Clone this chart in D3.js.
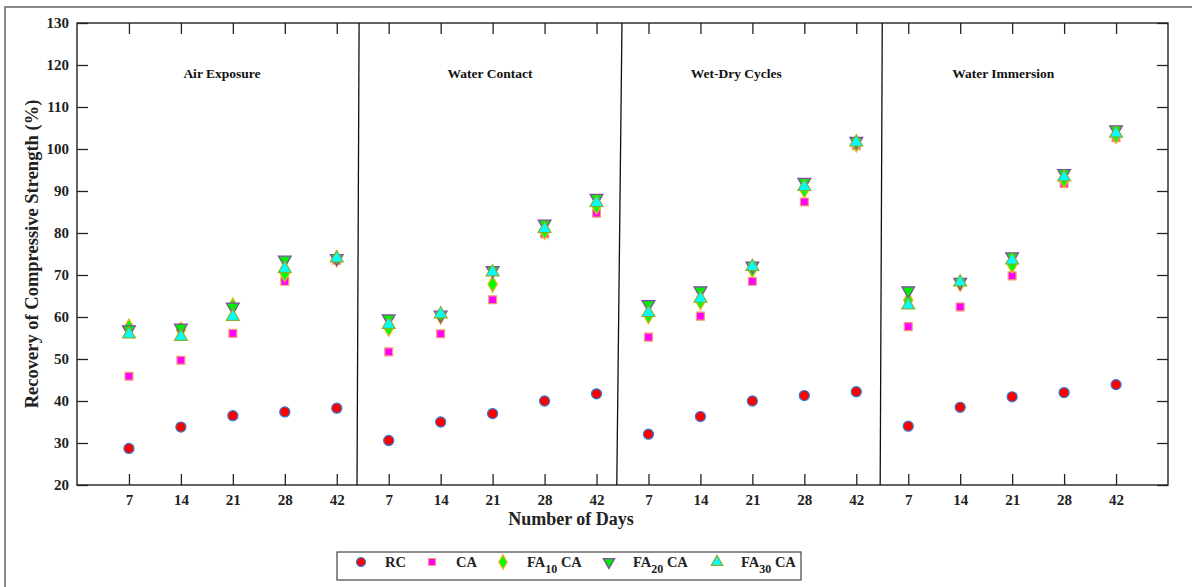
<!DOCTYPE html>
<html>
<head>
<meta charset="utf-8">
<script src="https://cdn.jsdelivr.net/npm/d3@7"></script>
<style>
  body { margin: 0; background: #fff; }
  svg { display: block; font-family: 'Liberation Serif', 'Times New Roman', serif; }
</style>
</head>
<body>
<div id="chart"></div>
<script>
const days = ['7', '14', '21', '28', '42'];
const panels = ['Air Exposure', 'Water Contact', 'Wet-Dry Cycles', 'Water Immersion'];

// values per panel, 5 days each
const rc = [
  [28.7, 33.8, 36.5, 37.4, 38.3],
  [30.6, 35.0, 37.0, 40.0, 41.7],
  [32.1, 36.3, 40.0, 41.3, 42.2],
  [34.0, 38.5, 41.0, 42.0, 43.9],
];
const ca = [
  [45.9, 49.7, 56.1, 68.5, 73.5],
  [51.7, 56.0, 64.1, 79.8, 84.7],
  [55.2, 60.2, 68.5, 87.4, 100.8],
  [57.7, 62.4, 69.8, 91.8, 102.7],
];
const fa10 = [
  [57.6, 56.9, 62.6, 70.3, 73.9],
  [57.3, 60.2, 67.8, 80.4, 86.4],
  [60.3, 63.7, 71.3, 90.3, 101.2],
  [64.0, 68.0, 72.4, 92.7, 103.2],
];
const fa20 = [
  [57.0, 57.4, 62.4, 73.6, 74.0],
  [59.6, 60.5, 71.1, 82.2, 88.3],
  [63.0, 66.3, 72.2, 92.1, 101.9],
  [66.3, 68.3, 74.4, 94.2, 104.6],
];
const fa30 = [
  [55.9, 55.3, 60.1, 71.5, 74.0],
  [58.2, 60.7, 70.7, 81.0, 87.2],
  [61.0, 64.4, 72.0, 91.0, 101.6],
  [62.8, 68.3, 73.5, 93.3, 103.7],
];
// separator lines between panels (x in category units, top / bottom)
const dividers = [[5.43, 5.39], [10.49, 10.39], [15.50, 15.46]];
// panel title centres, category units
const titleX = [2.79, 7.95, 12.69, 17.83];
const yTicks = d3.range(20, 131, 10);

const W = 1192, H = 587;
const margin = { top: 23, right: 24, bottom: 102, left: 77 };
const plotW = W - margin.left - margin.right;
const plotH = H - margin.top - margin.bottom;

const svg = d3.select('#chart').append('svg').attr('width', W).attr('height', H);

// outer figure frame
svg.append('rect')
  .attr('x', 5).attr('y', 7).attr('width', 1200).attr('height', 600)
  .attr('fill', 'none').attr('stroke', '#8a8a8a').attr('stroke-width', 2);

const xScale = d3.scaleLinear().domain([0, 21]).range([0, plotW]);
const yScale = d3.scaleLinear().domain([20, 130]).range([plotH, 0]);

const g = svg.append('g').attr('transform', `translate(${margin.left},${margin.top})`);

const positions = d3.range(1, 21);
const labelFor = (i) => days[(i - 1) % 5];
const tickLen = 11;

const styleAxis = (sel) => {
  sel.select('.domain').remove();
  sel.selectAll('line').attr('stroke', '#222').attr('stroke-width', 1.3);
  sel.selectAll('text').attr('font-family', "'Liberation Serif', serif")
    .attr('font-weight', 'bold').attr('font-size', 15).attr('fill', '#222');
};

g.append('g').attr('transform', `translate(0,${plotH})`)
  .call(d3.axisBottom(xScale).tickValues(positions).tickFormat(labelFor)
    .tickSizeInner(-tickLen).tickSizeOuter(0).tickPadding(9))
  .call(styleAxis);
g.append('g')
  .call(d3.axisTop(xScale).tickValues(positions).tickFormat('')
    .tickSizeInner(-tickLen).tickSizeOuter(0))
  .call(styleAxis);
g.append('g')
  .call(d3.axisLeft(yScale).tickValues(yTicks)
    .tickSizeInner(-tickLen).tickSizeOuter(0).tickPadding(8))
  .call(styleAxis);
g.append('g').attr('transform', `translate(${plotW},0)`)
  .call(d3.axisRight(yScale).tickValues(yTicks).tickFormat('')
    .tickSizeInner(-tickLen).tickSizeOuter(0))
  .call(styleAxis);

g.append('rect').attr('width', plotW).attr('height', plotH)
  .attr('fill', 'none').attr('stroke', '#222').attr('stroke-width', 1.4);

g.selectAll('.divider').data(dividers).join('line')
  .attr('class', 'divider')
  .attr('x1', (d) => xScale(d[0])).attr('y1', 0)
  .attr('x2', (d) => xScale(d[1])).attr('y2', plotH)
  .attr('stroke', '#111').attr('stroke-width', 1.3);

g.selectAll('.ptitle').data(panels).join('text')
  .attr('class', 'ptitle')
  .attr('x', (d, i) => xScale(titleX[i]))
  .attr('y', 55)
  .attr('text-anchor', 'middle')
  .attr('font-size', 13.5).attr('font-weight', 'bold').attr('fill', '#111')
  .text((d) => d);

const series = [
  { name: 'RC', values: rc, sym: d3.symbolCircle, size: 80, fill: '#ff0000', stroke: '#2a7fd4' },
  { name: 'CA', values: ca, sym: d3.symbolSquare, size: 62, fill: '#ff00ff', stroke: '#f0a070' },
  { name: 'FA10', values: fa10, sym: d3.symbolDiamond, size: 75, fill: '#00ff00', stroke: '#f0b020' },
  { name: 'FA20', values: fa20, sym: d3.symbolTriangle, size: 72, fill: '#00ee00', stroke: '#8844aa', rot: 180 },
  { name: 'FA30', values: fa30, sym: d3.symbolTriangle, size: 72, fill: '#00ffff', stroke: '#88b030' },
];

series.forEach((s) => {
  const pts = [];
  s.values.forEach((arr, p) => arr.forEach((v, k) => pts.push({ x: p * 5 + k + 1, y: v })));
  g.append('g').selectAll('path').data(pts).join('path')
    .attr('d', d3.symbol(s.sym, s.size))
    .attr('transform', (d) => `translate(${xScale(d.x)},${yScale(d.y)}) rotate(${s.rot || 0})`)
    .attr('fill', s.fill).attr('stroke', s.stroke).attr('stroke-width', 1.2);
});

// axis titles
svg.append('text')
  .attr('transform', `translate(38,${margin.top + plotH / 2}) rotate(-90)`)
  .attr('text-anchor', 'middle')
  .attr('font-size', 18.5).attr('font-weight', 'bold').attr('fill', '#222')
  .text('Recovery of Compressive Strength (%)');
svg.append('text')
  .attr('x', 571).attr('y', 525)
  .attr('text-anchor', 'middle')
  .attr('font-size', 18).attr('font-weight', 'bold').attr('fill', '#222')
  .text('Number of Days');

// legend
const legend = svg.append('g').attr('transform', 'translate(337,552)');
legend.append('rect').attr('width', 464).attr('height', 28)
  .attr('fill', '#fff').attr('stroke', '#444').attr('stroke-width', 1.2);
const legX = [24, 95, 166, 272, 380];
const item = legend.selectAll('.item').data(series).join('g')
  .attr('class', 'item')
  .attr('transform', (d, i) => `translate(${legX[i]},10)`);
item.append('path')
  .attr('d', (d) => d3.symbol(d.sym, d.size * 0.8)())
  .attr('transform', (d) => `rotate(${d.rot || 0})`)
  .attr('fill', (d) => d.fill).attr('stroke', (d) => d.stroke).attr('stroke-width', 1.2);
const lt = item.append('text')
  .attr('x', 24).attr('y', 5)
  .attr('font-size', 14.5).attr('font-weight', 'bold').attr('fill', '#222');
lt.each(function (d) {
  const t = d3.select(this);
  if (d.name.startsWith('FA')) {
    t.append('tspan').text('FA');
    t.append('tspan').attr('dy', 6).attr('font-size', 12).text(d.name.slice(2));
    t.append('tspan').attr('dy', -6).text(' CA');
  } else {
    t.text(d.name);
  }
});
</script>
</body>
</html>
